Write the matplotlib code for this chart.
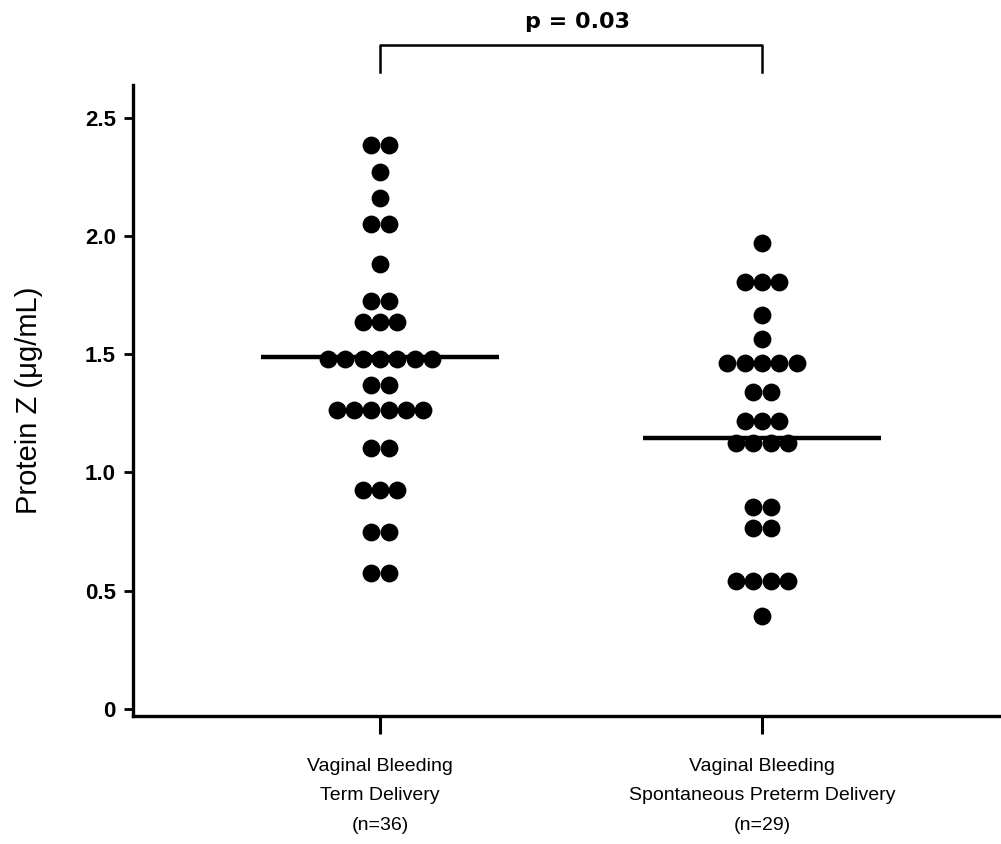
import numpy as np
import matplotlib
matplotlib.use("Agg")
import matplotlib.pyplot as plt

# protein Z values (one entry per dot)
term = [2.385, 2.385, 2.272, 2.159, 2.051, 2.051, 1.880, 1.725, 1.725,
        1.637, 1.637, 1.637, 1.478, 1.478, 1.478, 1.478, 1.478, 1.478, 1.478,
        1.370, 1.370, 1.264, 1.264, 1.264, 1.264, 1.264, 1.264,
        1.102, 1.102, 0.926, 0.926, 0.926, 0.749, 0.749, 0.574, 0.574]
preterm = [1.971, 1.807, 1.807, 1.807, 1.666, 1.563,
           1.464, 1.464, 1.464, 1.464, 1.464, 1.339, 1.339,
           1.218, 1.218, 1.218, 1.126, 1.126, 1.126, 1.126,
           0.855, 0.855, 0.764, 0.764, 0.541, 0.541, 0.541, 0.541, 0.394]
center_lines = [1.489, 1.144]
groups = [term, preterm]
labels = ["Vaginal Bleeding\nTerm Delivery\n(n=36)",
          "Vaginal Bleeding\nSpontaneous Preterm Delivery\n(n=29)"]
yticks = [0, 0.5, 1.0, 1.5, 2.0, 2.5]
yticklabels = ["0", "0.5", "1.0", "1.5", "2.0", "2.5"]
p_text = "p = 0.03"

fig = plt.figure(figsize=(10.01, 8.44), dpi=100)
ax = fig.add_axes([0.1332, 0.1517, 0.8668, 0.7476])

dx = 0.0453
for i, vals in enumerate(groups):
    v, c = np.unique(vals, return_counts=True)
    xs, ys = [], []
    for val, n in zip(v, c):
        for k in range(n):
            xs.append(i + (k - (n - 1) / 2) * dx)
            ys.append(val)
    ax.scatter(xs, ys, s=165, color="black", linewidths=0, zorder=3)
    ax.hlines(center_lines[i], i - 0.311, i + 0.311, color="black", lw=3.2, zorder=2)

ax.set_xlim(-0.646, 1.626)
ax.set_ylim(-0.03, 2.638)

for s in ["top", "right"]:
    ax.spines[s].set_visible(False)
ax.spines["left"].set_linewidth(2.4)
ax.spines["bottom"].set_linewidth(2.4)

ax.set_yticks(yticks)
ax.set_yticklabels(yticklabels, fontfamily="Liberation Sans", fontweight="bold", fontsize=16)
ax.tick_params(axis="y", direction="out", length=6.5, width=2, pad=6)

ax.set_xticks([0, 1])
ax.set_xticklabels(labels, fontfamily="Liberation Sans", fontsize=14, linespacing=1.98)
ax.tick_params(axis="x", direction="out", length=13, width=2.2, pad=17)

ax.set_ylabel("Protein Z (\u03bcg/mL)", fontfamily="Liberation Sans", fontsize=21)
ax.yaxis.set_label_coords(-0.104, 0.5)

# significance bracket above the two groups
ax.plot([0, 0, 1, 1], [2.693, 2.807, 2.807, 2.693],
        color="black", lw=1.8, clip_on=False)
ax.text(0.518, 2.879, p_text, ha="center", va="baseline",
        fontfamily="DejaVu Sans", fontweight="bold", fontsize=16)

fig.savefig("out.png", dpi=100)
